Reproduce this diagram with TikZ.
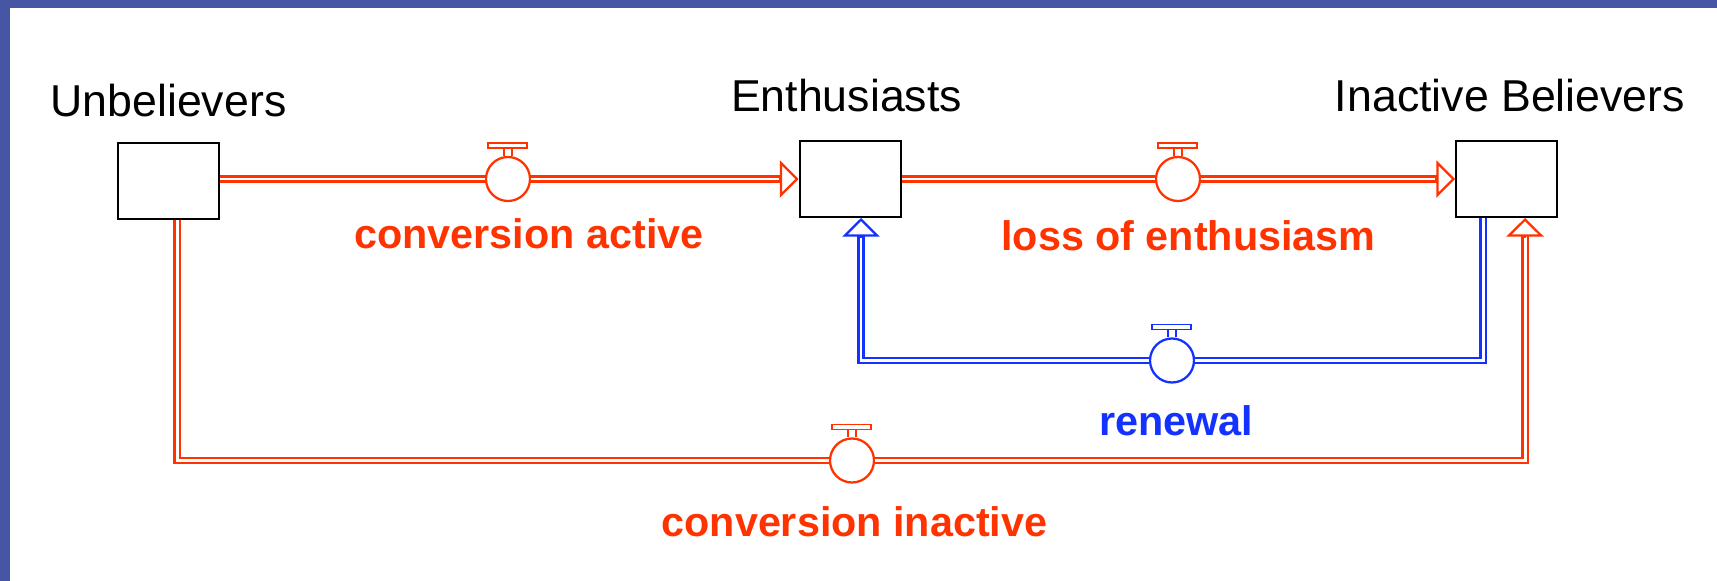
\documentclass[tikz,border=0pt]{standalone}
\usepackage{fontspec}
\setmainfont{Liberation Sans}
\usetikzlibrary{arrows.meta}

\definecolor{flowred}{RGB}{255,51,0}
\definecolor{flowblue}{RGB}{20,50,255}
\definecolor{frameblue}{RGB}{70,86,165}

\tikzset{every picture/.style={line width=0.75pt}}
\tikzset{
  stock/.style={draw, line width=1.5pt, minimum width=75.75pt, minimum height=57pt, inner sep=0pt},
  valve/.style={circle, draw, fill=white, line width=1.7pt, minimum size=33pt, inner sep=0pt},
  handle/.style={line width=1.3pt},
  flowr/.style={draw=flowred, line width=1.6pt, double=white, double distance=2.2pt},
  flowb/.style={draw=flowblue, line width=1.6pt, double=white, double distance=2.2pt},
  tipr/.style={draw=flowred, line width=1.7pt, -{Triangle[length=14pt, width=28pt, fill=white]}},
  tipb/.style={draw=flowblue, line width=1.7pt, -{Triangle[length=14pt, width=28pt, fill=white]}},
  stocklabel/.style={anchor=base, inner sep=0.75pt, font=\fontsize{33.5pt}{40pt}\selectfont},
  flowlabel/.style={anchor=base, inner sep=0.75pt, text=flowred, font=\fontsize{31pt}{37pt}\selectfont\bfseries}
}

\begin{document}
\begin{tikzpicture}[x=0.75pt,y=0.75pt,yscale=-1,xscale=1]
\useasboundingbox (0,0) rectangle (1717,581);

%Frame
\fill[frameblue] (0,0) rectangle (1717,8);
\fill[frameblue] (0,0) rectangle (10,581);

%Stocks
\node[stock] (unb) at (168.5,181.5) {};
\node[stock] (enth) at (850,179) {};
\node[stock] (inact) at (1506.5,179) {};

%Valves
\node[valve, draw=flowred] (va) at (508,179) {};
\node[valve, draw=flowred] (vl) at (1178,179) {};
\node[valve, draw=flowblue] (vr) at (1172,360.5) {};
\node[valve, draw=flowred] (vi) at (852,460.5) {};

\foreach \v/\c in {va/flowred, vl/flowred, vi/flowred, vr/flowblue}
  \draw[\c, handle] (\v.north) ++(-4,0) -- ++(0,-8) (\v.north) ++(4,0) -- ++(0,-8)
    (\v.north) ++(-20,-8) rectangle ++(39,-5);

%Flow ends
\coordinate (ciout) at ([xshift=6.4pt]unb.south);
\coordinate (ciin) at ([xshift=13.9pt]inact.south);
\coordinate (rnout) at ([xshift=-17.6pt]inact.south);
\coordinate (rnin) at ([xshift=8.25pt]enth.south);

%Flows
\draw[flowr, shorten >=13pt] (unb.east |- va) -- (va) -- (enth.west);
\draw[tipr] (enth.west) ++(-20,0) -- (enth.west);

\draw[flowr, shorten >=13pt] (enth.east) -- (vl) -- (inact.west);
\draw[tipr] (inact.west) ++(-20,0) -- (inact.west);

\draw[flowb, shorten >=13pt] (rnout) |- (vr) -| (rnin);
\draw[tipb] (rnin) ++(0,20) -- (rnin);

\draw[flowr, shorten >=13pt] (ciout) |- (vi) -| (ciin);
\draw[tipr] (ciin) ++(0,20) -- (ciin);

% Text Node
\node[stocklabel] (unblabel) at (168.5,117) {Unbelievers};
\node[stocklabel] (enthlabel) at (846.5,112) {Enthusiasts};
\node[stocklabel] (inactlabel) at (1510,112) {Inactive Believers};
% Text Node
\node[flowlabel] (valabel) at (529,248) {conversion active};
\node[flowlabel] (vllabel) at (1188.5,250) {loss of enthusiasm};
\node[flowlabel, text=flowblue] (vrlabel) at (1176,435) {renewal};
\node[flowlabel] (vilabel) at (854.5,536) {conversion inactive};

\end{tikzpicture}
\end{document}
